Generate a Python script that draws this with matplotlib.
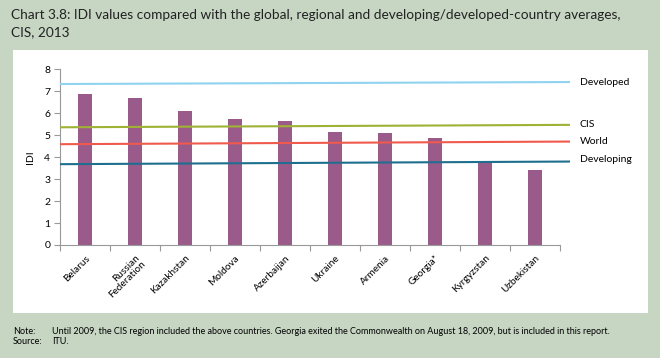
"""IDI values for CIS countries compared with global, regional and
developing/developed-country averages (2013)."""
import matplotlib
matplotlib.use("Agg")
import matplotlib.pyplot as plt
from matplotlib.patches import Rectangle

plt.rcParams["font.family"] = ["Lato", "DejaVu Sans"]

countries = ["Belarus", "Russian\nFederation", "Kazakhstan", "Moldova", "Azerbaijan",
             "Ukraine", "Armenia", "Georgia*", "Kyrgyzstan", "Uzbekistan"]
idi = [6.89, 6.70, 6.08, 5.72, 5.65, 5.15, 5.08, 4.86, 3.78, 3.40]

# reference averages (drawn slightly sloped, as in the original)
avg_names = ["Developed", "CIS", "World", "Developing"]
avg_start = [7.33, 5.36, 4.59, 3.68]
avg_end = [7.42, 5.47, 4.71, 3.80]
avg_colors = ["#8fd3ef", "#9fb234", "#ef5a4c", "#1e6f8e"]
label_offset = [0.0, 0.0, 0.0, 0.1]

BG = "#c6d6c3"
BAR = "#9b5b8a"


def main():
    fig = plt.figure(figsize=(6.6, 3.58), dpi=100, facecolor=BG)
    W, H = 660, 358

    # white chart panel
    fig.patches.append(Rectangle((13 / W, 1 - 313 / H), (648 - 13) / W, (313 - 50) / H,
                                 transform=fig.transFigure, facecolor="white",
                                 edgecolor="none", zorder=-1))

    fig.text(11 / W, 1 - 15 / H,
             "Chart 3.8: IDI values compared with the global, regional and "
             "developing/developed-country averages,",
             fontsize=9.8, va="center", ha="left", color="#222222")
    fig.text(11 / W, 1 - 32 / H, "CIS, 2013", fontsize=9.8, va="center", ha="left",
             color="#222222")

    ax = fig.add_axes([60 / W, 1 - 245 / H, 510 / W, (245 - 69.3) / H])
    ax.set_zorder(1)
    ax.set_facecolor("none")
    x = list(range(len(countries)))
    ax.bar(x, idi, width=0.27, color=BAR, zorder=2)

    x_end = len(countries) - 0.3
    for name, s, e, c, off in zip(avg_names, avg_start, avg_end, avg_colors, label_offset):
        ax.plot([-0.5, x_end], [s, e], color=c, lw=1.5, zorder=3, solid_capstyle="butt")
        ax.text(x_end + 0.2, e + off, name, fontsize=7.5, va="center", ha="left",
                clip_on=False)

    ax.set_xlim(-0.5, x_end)
    ax.set_ylim(0, 8)
    ax.set_yticks(range(0, 9))
    ax.tick_params(axis="y", labelsize=7.5, length=4, color="#999999", pad=3)
    ax.set_ylabel("IDI", fontsize=7.5, labelpad=7)

    ax.set_xticks([i - 0.5 for i in range(len(countries) + 1)], minor=False)
    ax.set_xticklabels([])
    ax.set_xticks(x, minor=True)
    ax.set_xticklabels(countries, minor=True, rotation=45, ha="right",
                       rotation_mode="anchor", fontsize=7.2, linespacing=0.95)
    ax.tick_params(axis="x", which="major", length=4, color="#999999")
    ax.tick_params(axis="x", which="minor", length=0, pad=6)

    for side in ("top", "right"):
        ax.spines[side].set_visible(False)
    for side in ("left", "bottom"):
        ax.spines[side].set_color("#999999")
    ax.spines["bottom"].set_bounds(-0.5, len(countries) - 0.5)

    fig.text(13 / W, 1 - 331 / H, "Note:", fontsize=6.5, va="center", ha="left")
    fig.text(52 / W, 1 - 331 / H,
             "Until 2009, the CIS region included the above countries. Georgia exited the "
             "Commonwealth on August 18, 2009, but is included in this report.",
             fontsize=6.5, va="center", ha="left")
    fig.text(13 / W, 1 - 342 / H, "Source:", fontsize=6.5, va="center", ha="left")
    fig.text(52 / W, 1 - 342 / H, "ITU.", fontsize=6.5, va="center", ha="left")

    fig.savefig("out.png", dpi=100, facecolor=BG)
    plt.close(fig)


if __name__ == "__main__":
    main()
